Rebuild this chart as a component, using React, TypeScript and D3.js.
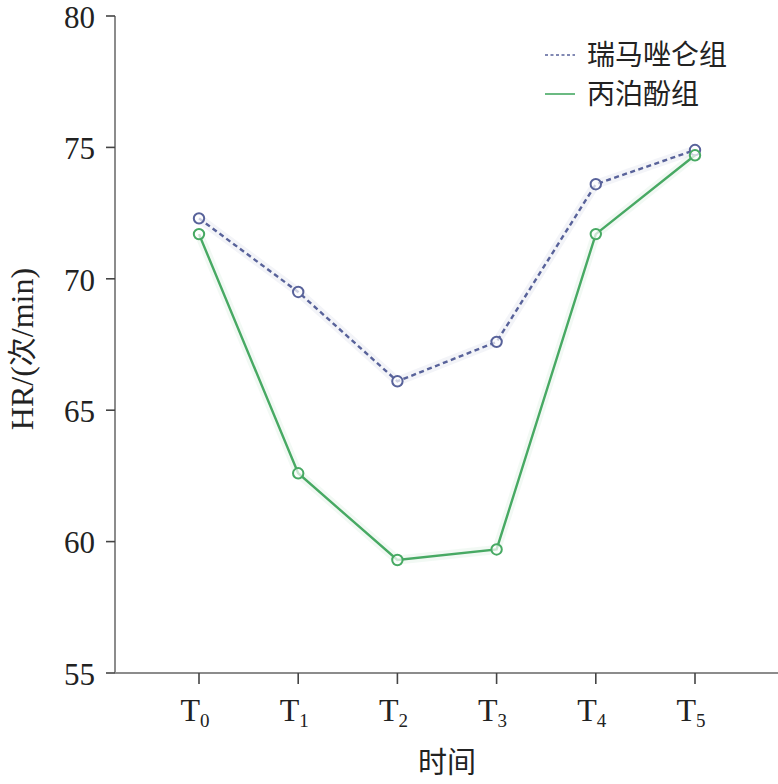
import React, { useEffect, useRef } from 'react';
import * as d3 from 'd3';

const categories = ['0', '1', '2', '3', '4', '5'];
const remimazolam = [72.3, 69.5, 66.1, 67.6, 73.6, 74.9];
const propofol = [71.7, 62.6, 59.3, 59.7, 71.7, 74.7];
const yTicks = [55, 60, 65, 70, 75, 80];

const W = 778;
const H = 784;
const serif = '"Liberation Serif", "Times New Roman", serif';
const cjk = '"Noto Sans CJK SC", sans-serif';

export default function App() {
  const ref = useRef<SVGSVGElement | null>(null);

  useEffect(() => {
    if (!ref.current) return;
    const svg = d3.select(ref.current);
    svg.selectAll('*').remove();

    const x = d3.scalePoint<string>().domain(categories).range([199, 695]);
    const y = d3.scaleLinear().domain([55, 80]).range([673, 16]);

    const axisColor = '#8c8c8c';
    const blue = '#58629a';
    const green = '#47a963';

    // axes
    svg.append('line')
      .attr('x1', 115).attr('x2', 115).attr('y1', y(80)).attr('y2', y(55))
      .attr('stroke', axisColor).attr('stroke-width', 2);
    svg.append('line')
      .attr('x1', 115).attr('x2', W).attr('y1', y(55)).attr('y2', y(55))
      .attr('stroke', axisColor).attr('stroke-width', 2);

    const gy = svg.append('g');
    yTicks.forEach(t => {
      gy.append('line')
        .attr('x1', 106).attr('x2', 115).attr('y1', y(t)).attr('y2', y(t))
        .attr('stroke', '#444').attr('stroke-width', 1.6);
      gy.append('text')
        .attr('x', 95).attr('y', y(t)).attr('dy', '0.38em')
        .attr('text-anchor', 'end')
        .style('font', `31px ${serif}`).attr('fill', '#222')
        .text(t);
    });

    const gx = svg.append('g');
    categories.forEach(c => {
      const cx = x(c)!;
      gx.append('line')
        .attr('x1', cx).attr('x2', cx).attr('y1', y(55)).attr('y2', y(55) + 11)
        .attr('stroke', '#444').attr('stroke-width', 1.6);
      const t = gx.append('text')
        .attr('x', cx - 4).attr('y', 721)
        .attr('text-anchor', 'middle')
        .style('font', `32px ${serif}`).attr('fill', '#222');
      t.append('tspan').text('T');
      t.append('tspan').attr('dy', 6).style('font-size', '19px').text(c);
    });

    svg.append('text')
      .attr('x', 447).attr('y', 773)
      .attr('text-anchor', 'middle')
      .style('font', `29px ${cjk}`).attr('fill', '#222')
      .text('时间');

    const yl = svg.append('text')
      .attr('transform', 'translate(33,349) rotate(-90)')
      .attr('text-anchor', 'middle')
      .style('font', `32px ${serif}`).attr('fill', '#222');
    yl.append('tspan').text('HR/(');
    yl.append('tspan').style('font-family', cjk).style('font-size', '29px').text('次');
    yl.append('tspan').text('/min)');

    const line = d3.line<number>().x((_, i) => x(categories[i])!).y(d => y(d));

    const series = [
      { values: remimazolam, color: blue, dash: '5,3.5' },
      { values: propofol, color: green, dash: null as string | null },
    ];

    series.forEach(s => {
      svg.append('path')
        .attr('d', line(s.values))
        .attr('fill', 'none')
        .attr('stroke', s.color).attr('stroke-opacity', 0.07)
        .attr('stroke-width', 9);
      const p = svg.append('path')
        .attr('d', line(s.values))
        .attr('fill', 'none')
        .attr('stroke', s.color)
        .attr('stroke-width', 2.4);
      if (s.dash) p.attr('stroke-dasharray', s.dash);
      svg.append('g').selectAll('circle')
        .data(s.values)
        .join('circle')
        .attr('cx', (_, i) => x(categories[i])!)
        .attr('cy', d => y(d))
        .attr('r', 5.2)
        .attr('fill', 'white').attr('fill-opacity', 0.7)
        .attr('stroke', s.color).attr('stroke-width', 2);
    });

    // legend
    const legend = [
      { label: '瑞马唑仑组', color: blue, dash: '3,2.5', yy: 55 },
      { label: '丙泊酚组', color: green, dash: null as string | null, yy: 94 },
    ];
    legend.forEach(l => {
      const ln = svg.append('line')
        .attr('x1', 545).attr('x2', 575).attr('y1', l.yy).attr('y2', l.yy)
        .attr('stroke', l.color).attr('stroke-width', 1.6);
      if (l.dash) ln.attr('stroke-dasharray', l.dash);
      svg.append('text')
        .attr('x', 587).attr('y', l.yy).attr('dy', '0.36em')
        .style('font', `28px ${cjk}`).attr('fill', '#222')
        .text(l.label);
    });
  }, []);

  return (
    <svg ref={ref} width={W} height={H}
      style={{ position: 'absolute', left: 0, top: 0, background: 'white', display: 'block' }} />
  );
}
